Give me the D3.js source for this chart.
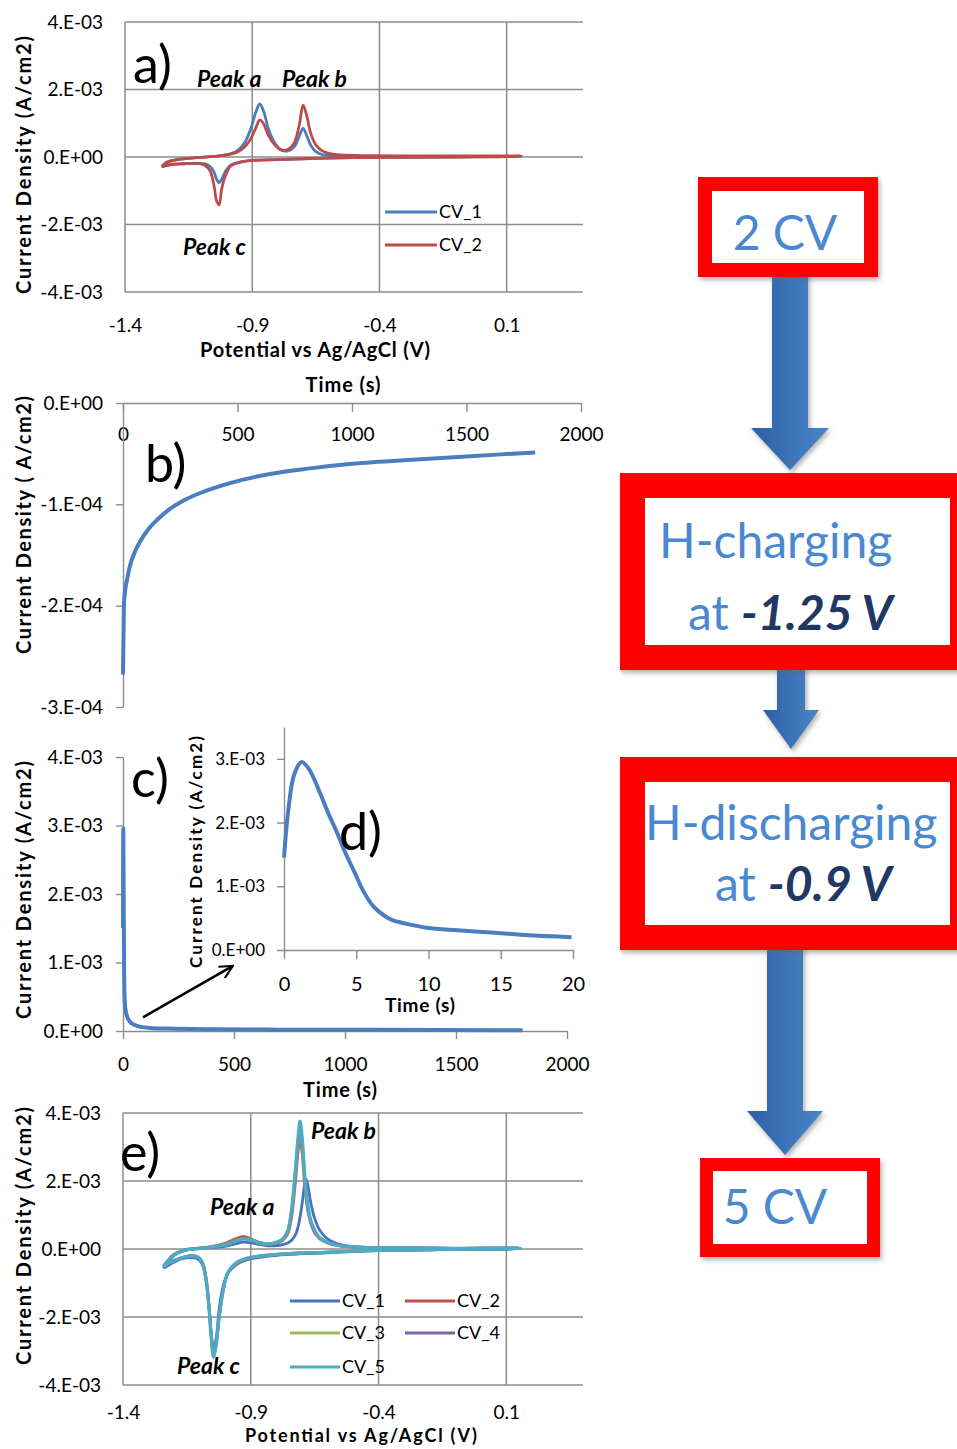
<!DOCTYPE html>
<html>
<head>
<meta charset="utf-8">
<script src="https://cdn.jsdelivr.net/npm/d3@7"></script>
<style>
  body { margin: 0; background: #fff; }
  text { font-family: Lato, "Open Sans", sans-serif; }
</style>
</head>
<body>
<svg id="fig" width="957" height="1449"></svg>
<script>
// ---------- data ----------
// CV axes (current in mA/cm2, labelled in A/cm2 like the Excel original)
const cvXTicks = [-1.4, -0.9, -0.4, 0.1];
const cvXLabels = ["-1.4", "-0.9", "-0.4", "0.1"];
const cvYTicks = [-4, -2, 0, 2, 4];
const cvYLabels = ["-4.E-03", "-2.E-03", "0.E+00", "2.E-03", "4.E-03"];

// panel a : potential along the loop (anodic sweep, then cathodic sweep back)
const potA = [-1.256, -1.235, -1.20, -1.15, -1.10, -1.05, -1.00, -0.96, -0.93, -0.905,
  -0.885, -0.87, -0.855, -0.835, -0.81, -0.785, -0.76, -0.735, -0.715, -0.70,
  -0.685, -0.67, -0.65, -0.625, -0.59, -0.55, -0.45, -0.3, -0.1, 0.158,
  0.10, -0.1, -0.3, -0.5, -0.65, -0.8, -0.9, -0.95, -0.985, -1.005,
  -1.02, -1.03, -1.04, -1.05, -1.065, -1.085, -1.12, -1.17, -1.21, -1.256];
const cvA1 = [-0.28, -0.15, -0.08, -0.04, -0.01, 0.02, 0.07, 0.18, 0.42, 0.85,
  1.35, 1.57, 1.35, 0.80, 0.40, 0.20, 0.18, 0.30, 0.62, 0.85,
  0.62, 0.35, 0.16, 0.07, 0.04, 0.03, 0.02, 0.02, 0.02, 0.02,
  0.01, 0, -0.01, -0.02, -0.04, -0.08, -0.10, -0.15, -0.24, -0.42,
  -0.66, -0.76, -0.66, -0.45, -0.28, -0.20, -0.19, -0.20, -0.21, -0.28];
const cvA2 = [-0.29, -0.16, -0.09, -0.04, -0.01, 0.02, 0.06, 0.14, 0.30, 0.55,
  0.88, 1.10, 0.98, 0.62, 0.35, 0.21, 0.22, 0.42, 0.95, 1.54,
  1.20, 0.70, 0.36, 0.18, 0.09, 0.06, 0.04, 0.03, 0.03, 0.03,
  0.01, 0, -0.01, -0.02, -0.04, -0.08, -0.10, -0.16, -0.27, -0.55,
  -0.95, -1.42, -1.30, -0.85, -0.42, -0.25, -0.19, -0.20, -0.22, -0.29];

// panel e : five CVs after charging / discharging
const potE = [-1.242, -1.225, -1.205, -1.18, -1.15, -1.10, -1.05, -1.00, -0.96, -0.93,
  -0.90, -0.87, -0.84, -0.80, -0.775, -0.755, -0.74, -0.725, -0.715, -0.707,
  -0.698, -0.69, -0.683, -0.675, -0.665, -0.65, -0.63, -0.60, -0.56, -0.50,
  -0.42, -0.3, -0.1, 0.154,
  0.10, -0.1, -0.3, -0.45, -0.6, -0.75, -0.85, -0.92, -0.96, -0.99,
  -1.01, -1.025, -1.035, -1.046, -1.055, -1.064, -1.075, -1.09, -1.11, -1.14,
  -1.175, -1.21, -1.242];
const cvE1 = [-0.57, -0.40, -0.22, -0.10, -0.03, 0.01, 0.04, 0.08, 0.15, 0.20,
  0.18, 0.14, 0.10, 0.10, 0.13, 0.18, 0.26, 0.42, 0.65, 0.95,
  1.40, 1.85, 2.05, 1.80, 1.35, 0.90, 0.55, 0.30, 0.15, 0.07,
  0.04, 0.03, 0.02, 0.02,
  0, -0.01, -0.03, -0.06, -0.11, -0.16, -0.23, -0.33, -0.48, -0.72,
  -1.15, -1.85, -2.60, -2.95, -2.45, -1.65, -0.95, -0.45, -0.28, -0.25,
  -0.30, -0.43, -0.57];
const cvE2 = [-0.50, -0.34, -0.18, -0.08, -0.01, 0.03, 0.08, 0.17, 0.30, 0.37,
  0.30, 0.20, 0.14, 0.17, 0.25, 0.45, 0.95, 2.00, 2.85, 3.25,
  2.75, 1.95, 1.45, 1.05, 0.75, 0.48, 0.30, 0.18, 0.10, 0.06,
  0.04, 0.03, 0.02, 0.02,
  0, -0.01, -0.03, -0.05, -0.09, -0.13, -0.19, -0.30, -0.45, -0.72,
  -1.30, -2.05, -2.70, -3.02, -2.45, -1.60, -0.85, -0.38, -0.22, -0.20,
  -0.26, -0.36, -0.50];
const cvE3 = [-0.51, -0.35, -0.19, -0.08, -0.02, 0.02, 0.07, 0.14, 0.25, 0.31,
  0.27, 0.19, 0.14, 0.18, 0.27, 0.50, 1.10, 2.20, 3.05, 3.45,
  2.95, 2.10, 1.55, 1.12, 0.80, 0.52, 0.32, 0.19, 0.11, 0.06,
  0.04, 0.03, 0.02, 0.02,
  0, -0.01, -0.03, -0.05, -0.09, -0.13, -0.19, -0.29, -0.43, -0.71,
  -1.30, -2.08, -2.75, -3.10, -2.52, -1.65, -0.88, -0.39, -0.23, -0.21,
  -0.27, -0.37, -0.51];
const cvE4 = [-0.52, -0.36, -0.20, -0.09, -0.02, 0.02, 0.06, 0.13, 0.23, 0.30,
  0.27, 0.20, 0.15, 0.19, 0.29, 0.53, 1.15, 2.30, 3.18, 3.60,
  3.08, 2.20, 1.60, 1.16, 0.82, 0.53, 0.33, 0.20, 0.11, 0.06,
  0.04, 0.03, 0.02, 0.02,
  0, -0.01, -0.03, -0.05, -0.10, -0.14, -0.20, -0.28, -0.42, -0.70,
  -1.30, -2.10, -2.78, -3.14, -2.56, -1.68, -0.89, -0.40, -0.23, -0.21,
  -0.28, -0.38, -0.52];
const cvE5 = [-0.52, -0.36, -0.20, -0.09, -0.02, 0.02, 0.06, 0.12, 0.22, 0.30,
  0.27, 0.20, 0.15, 0.20, 0.30, 0.55, 1.20, 2.40, 3.30, 3.76,
  3.20, 2.30, 1.65, 1.20, 0.85, 0.55, 0.33, 0.20, 0.11, 0.06,
  0.04, 0.03, 0.02, 0.02,
  0, -0.01, -0.03, -0.05, -0.10, -0.14, -0.20, -0.28, -0.42, -0.70,
  -1.30, -2.10, -2.80, -3.18, -2.60, -1.70, -0.90, -0.40, -0.23, -0.21,
  -0.28, -0.38, -0.52];

// panel b : H-charging at -1.25 V (current in uA/cm2)
const timeB = [0, 4, 9, 17, 30, 48, 74, 109, 153, 205, 271, 358, 467, 642, 817, 1000, 1300, 1500, 1650, 1800];
const curB = [-268, -199, -186, -175, -161, -149, -137, -125, -114.5, -104.5, -95.5, -87, -79, -70, -64.5, -60, -55.5, -52.7, -50.7, -48.8];
const bXTicks = [0, 500, 1000, 1500, 2000];
const bYTicks = [0, -100, -200, -300];
const bYLabels = ["0.E+00", "-1.E-04", "-2.E-04", "-3.E-04"];

// panel c : H-discharging at -0.9 V (current in mA/cm2)
const timeC = [0, 1.2, 3, 5, 8, 12, 20, 30, 50, 80, 120, 200, 400, 700, 1000, 1400, 1800];
const curC = [1.5, 2.95, 2.0, 0.95, 0.42, 0.3, 0.2, 0.14, 0.09, 0.06, 0.045, 0.035, 0.025, 0.02, 0.018, 0.015, 0.012];
const cXTicks = [0, 500, 1000, 1500, 2000];
const cYTicks = [0, 1, 2, 3, 4];
const cYLabels = ["0.E+00", "1.E-03", "2.E-03", "3.E-03", "4.E-03"];

// panel d : first 20 s of the discharge
const timeD = [0, 0.3, 0.7, 1.2, 1.7, 2.5, 3.0, 3.6, 4.2, 4.9, 5.5, 6.2, 7.0, 7.5, 8.5, 9.9, 12, 14.6, 17, 19.9];
const curD = [1.45, 2.2, 2.75, 2.95, 2.85, 2.46, 2.18, 1.88, 1.55, 1.21, 0.92, 0.68, 0.53, 0.47, 0.41, 0.35, 0.31, 0.27, 0.23, 0.2];
const dXTicks = [0, 5, 10, 15, 20];
const dYTicks = [0, 1, 2, 3];
const dYLabels = ["0.E+00", "1.E-03", "2.E-03", "3.E-03"];

const gridColor = "#8c8c8c";
const lineBlue = "#4A7EBF";

// ---------- setup ----------
const svg = d3.select("#fig");
svg.append("rect").attr("width", 957).attr("height", 1449).attr("fill", "#fff");

const defs = svg.append("defs");
const shadow = defs.append("filter").attr("id", "shadow")
  .attr("x", "-10%").attr("y", "-10%").attr("width", "130%").attr("height", "130%");
shadow.append("feDropShadow").attr("dx", 2).attr("dy", 3).attr("stdDeviation", 2.5)
  .attr("flood-color", "#666").attr("flood-opacity", 0.5);
const grad = defs.append("linearGradient").attr("id", "arrowFill")
  .attr("x1", 0).attr("x2", 1).attr("y1", 0).attr("y2", 0);
grad.append("stop").attr("offset", 0).attr("stop-color", "#2D5FA6");
grad.append("stop").attr("offset", 1).attr("stop-color", "#4A86C9");
defs.append("marker").attr("id", "openHead").attr("viewBox", "0 0 12 12")
  .attr("refX", 11).attr("refY", 6).attr("markerWidth", 6).attr("markerHeight", 6)
  .attr("orient", "auto").attr("markerUnits", "strokeWidth")
  .append("path").attr("d", "M1,1 L11,6 L1,11").attr("fill", "none").attr("stroke", "#000").attr("stroke-width", 1.6);

function txt(x, y, s, size, opt) {
  opt = opt || {};
  const t = svg.append("text").attr("x", x).attr("y", y).attr("font-size", size)
    .attr("font-weight", opt.weight || "normal").attr("font-style", opt.style || "normal")
    .attr("text-anchor", opt.anchor || "start").attr("fill", opt.fill || "#000").text(s);
  if (opt.len) t.attr("textLength", opt.len).attr("lengthAdjust", "spacing");
  return t;
}
function vtitle(x, cy, s, size, len) {
  svg.append("text").attr("transform", "translate(" + x + "," + cy + ") rotate(-90)")
    .attr("text-anchor", "middle").attr("font-size", size).attr("font-weight", "bold")
    .attr("textLength", len).attr("lengthAdjust", "spacing").text(s);
}
function styleAxis(a, size) {
  a.attr("font-size", size).attr("font-family", "Lato, 'Open Sans', sans-serif");
  a.selectAll("text").attr("fill", "#000");
  a.selectAll("path, line").attr("stroke", gridColor).attr("stroke-width", 1.4);
}
const peak = { weight: "bold", style: "italic" };

// ---------- cyclic voltammetry panels ----------
function cvPanel(p) {
  const x = d3.scaleLinear().domain([-1.4, 0.4]).range([p.left, p.right]);
  const y = d3.scaleLinear().domain([-4, 4]).range([p.bottom, p.top]);
  const g = svg.append("g");

  g.selectAll("line.h").data(cvYTicks).enter().append("line")
    .attr("x1", p.left).attr("x2", p.right)
    .attr("y1", d => y(d)).attr("y2", d => y(d))
    .attr("stroke", gridColor).attr("stroke-width", 1.5);
  g.selectAll("line.v").data(cvXTicks).enter().append("line")
    .attr("x1", d => x(d)).attr("x2", d => x(d))
    .attr("y1", p.top).attr("y2", p.bottom)
    .attr("stroke", gridColor).attr("stroke-width", 1.5);

  g.append("g").attr("transform", "translate(" + p.left + ",0)")
    .call(d3.axisLeft(y).tickValues(cvYTicks).tickFormat((d, i) => cvYLabels[i]).tickSize(0).tickPadding(22))
    .call(a => a.select(".domain").remove())
    .call(a => styleAxis(a, 19));
  g.append("g").attr("transform", "translate(0," + p.bottom + ")")
    .call(d3.axisBottom(x).tickValues(cvXTicks).tickFormat((d, i) => cvXLabels[i]).tickSize(0).tickPadding(p.xPad))
    .call(a => a.select(".domain").remove())
    .call(a => styleAxis(a, 19));

  const line = d3.line().x(d => x(d[0])).y(d => y(d[1])).curve(d3.curveCatmullRom.alpha(0.5));
  p.series.forEach(s => {
    g.append("path").datum(p.pot.map((v, i) => [v, s.cur[i]]))
      .attr("d", line).attr("fill", "none").attr("stroke", s.color)
      .attr("stroke-width", s.width || 2.8).attr("stroke-linejoin", "round");
  });
  return { x, y };
}

// panel a
cvPanel({ left: 125, right: 583, top: 22, bottom: 292, xPad: 27, pot: potA,
  series: [{ cur: cvA1, color: "#4A7EBB" }, { cur: cvA2, color: "#BE4B48" }] });
vtitle(31, 165, "Current Density  (A/cm2)", 20, 258);
txt(315, 357, "Potential vs Ag/AgCl (V)", 20, { weight: "bold", anchor: "middle", len: 230 });
txt(133, 83, "a)", 52);
txt(197, 87, "Peak a", 23, peak);
txt(282, 87, "Peak b", 23, peak);
txt(183, 255, "Peak c", 23, peak);
[["CV_1", "#4A7EBB", 212], ["CV_2", "#BE4B48", 245]].forEach(l => {
  svg.append("line").attr("x1", 385).attr("x2", 437).attr("y1", l[2]).attr("y2", l[2])
    .attr("stroke", l[1]).attr("stroke-width", 2.8);
  txt(439, l[2] + 6, l[0], 18);
});

// panel e
cvPanel({ left: 123, right: 583, top: 1113, bottom: 1385, xPad: 21, pot: potE,
  series: [
    { cur: cvE1, color: "#4672C4" }, { cur: cvE2, color: "#C0504D" },
    { cur: cvE3, color: "#9BBB59" }, { cur: cvE4, color: "#8064A2" },
    { cur: cvE5, color: "#4BACC6", width: 3.2 }] });
vtitle(31, 1236, "Current Density  (A/cm2)", 20, 258);
txt(361, 1442, "Potential vs Ag/AgCl (V)", 18, { weight: "bold", anchor: "middle", len: 232 });
txt(120, 1171, "e)", 52);
txt(311, 1139, "Peak b", 23, peak);
txt(210, 1215, "Peak a", 23, peak);
txt(177, 1374, "Peak c", 23, peak);
[["CV_1", "#4672C4", 290, 1301], ["CV_2", "#C0504D", 405, 1301],
 ["CV_3", "#9BBB59", 290, 1333], ["CV_4", "#8064A2", 405, 1333],
 ["CV_5", "#4BACC6", 290, 1367]].forEach(l => {
  svg.append("line").attr("x1", l[2]).attr("x2", l[2] + 50).attr("y1", l[3]).attr("y2", l[3])
    .attr("stroke", l[1]).attr("stroke-width", 3);
  txt(l[2] + 52, l[3] + 6, l[0], 18);
});

// ---------- panel b : charging transient ----------
const xb = d3.scaleLinear().domain([0, 2000]).range([123, 581]);
const yb = d3.scaleLinear().domain([-300, 0]).range([707, 403]);
svg.append("g").attr("transform", "translate(0," + yb(0) + ")")
  .call(d3.axisBottom(xb).tickValues(bXTicks).tickFormat(d => String(d)).tickSize(9).tickSizeOuter(0).tickPadding(16))
  .call(a => styleAxis(a, 19));
svg.append("g").attr("transform", "translate(" + xb(0) + ",0)")
  .call(d3.axisLeft(yb).tickValues(bYTicks).tickFormat((d, i) => bYLabels[i]).tickSize(7).tickSizeOuter(0).tickPadding(13))
  .call(a => styleAxis(a, 19));
svg.append("path").datum(timeB.map((t, i) => [t, curB[i]]))
  .attr("d", d3.line().x(d => xb(d[0])).y(d => yb(d[1])).curve(d3.curveMonotoneX))
  .attr("fill", "none").attr("stroke", lineBlue).attr("stroke-width", 4);
vtitle(31, 525, "Current Density ( A/cm2)", 20, 258);
txt(343, 392, "Time (s)", 20, { weight: "bold", anchor: "middle", len: 75 });
txt(145, 482, "b)", 52);

// ---------- panel c : discharging transient ----------
const xc = d3.scaleLinear().domain([0, 2000]).range([123, 567]);
const yc = d3.scaleLinear().domain([0, 4]).range([1031, 757]);
svg.append("g").attr("transform", "translate(0," + yc(0) + ")")
  .call(d3.axisBottom(xc).tickValues(cXTicks).tickFormat(d => String(d)).tickSize(8).tickSizeOuter(0).tickPadding(19))
  .call(a => styleAxis(a, 19));
svg.append("g").attr("transform", "translate(" + xc(0) + ",0)")
  .call(d3.axisLeft(yc).tickValues(cYTicks).tickFormat((d, i) => cYLabels[i]).tickSize(7).tickSizeOuter(0).tickPadding(13))
  .call(a => styleAxis(a, 19));
svg.append("path").datum(timeC.map((t, i) => [t, curC[i]]))
  .attr("d", d3.line().x(d => xc(d[0])).y(d => yc(d[1])).curve(d3.curveMonotoneX))
  .attr("fill", "none").attr("stroke", lineBlue).attr("stroke-width", 4);
vtitle(31, 890, "Current Density  (A/cm2)", 20, 258);
txt(340, 1097, "Time (s)", 20, { weight: "bold", anchor: "middle", len: 74 });
txt(131, 797, "c)", 52);
// zoom-in arrow towards the inset
svg.append("line").attr("x1", xc(90)).attr("y1", yc(0.2)).attr("x2", xc(495)).attr("y2", yc(0.95))
  .attr("stroke", "#000").attr("stroke-width", 2.6).attr("marker-end", "url(#openHead)");

// ---------- panel d : inset, first 20 s ----------
const xd = d3.scaleLinear().domain([0, 20]).range([284, 573]);
const yd = d3.scaleLinear().domain([0, 3.5]).range([950, 727]);
svg.append("g").attr("transform", "translate(0," + yd(0) + ")")
  .call(d3.axisBottom(xd).tickValues(dXTicks).tickFormat(d => String(d)).tickSize(9).tickSizeOuter(0).tickPadding(18))
  .call(a => styleAxis(a, 20));
svg.append("g").attr("transform", "translate(" + xd(0) + ",0)")
  .call(d3.axisLeft(yd).tickValues(dYTicks).tickFormat((d, i) => dYLabels[i]).tickSize(7).tickSizeOuter(0).tickPadding(12))
  .call(a => styleAxis(a, 17));
svg.append("path").datum(timeD.map((t, i) => [t, curD[i]]))
  .attr("d", d3.line().x(d => xd(d[0])).y(d => yd(d[1])).curve(d3.curveCatmullRom.alpha(0.5)))
  .attr("fill", "none").attr("stroke", lineBlue).attr("stroke-width", 4);
vtitle(202, 852, "Current Density  (A/cm2)", 17, 232);
txt(420, 1012, "Time (s)", 19, { weight: "bold", anchor: "middle", len: 70 });
txt(339, 850, "d)", 52);

// ---------- flow chart ----------
const flow = svg.append("g");
function blockArrow(cx, top, shaftW, headY, headW, tip) {
  const pts = [[cx - shaftW / 2, top], [cx + shaftW / 2, top], [cx + shaftW / 2, headY],
    [cx + headW / 2, headY], [cx, tip], [cx - headW / 2, headY], [cx - shaftW / 2, headY]];
  flow.append("polygon").attr("points", pts.map(p => p.join(",")).join(" "))
    .attr("fill", "url(#arrowFill)").attr("filter", "url(#shadow)");
}
blockArrow(790, 272, 36, 428, 78, 470);
blockArrow(791, 665, 28, 710, 56, 749);
blockArrow(785, 945, 36, 1111, 76, 1155);

function box(x, y, w, h, sw) {
  flow.append("rect").attr("x", x).attr("y", y).attr("width", w).attr("height", h)
    .attr("fill", "#fff").attr("stroke", "#FF0000").attr("stroke-width", sw)
    .attr("filter", "url(#shadow)");
}
box(705, 184, 166, 86, 14);
box(632.5, 485.5, 330, 172, 25);
box(632.5, 769.5, 330, 168, 25);
box(706.5, 1164.5, 167, 86, 13);

const boxBlue = "#4A88CF", navy = "#1F3864";
txt(785, 250, "2 CV", 48, { fill: boxBlue, anchor: "middle" });
txt(659, 558, "H-charging", 48, { fill: boxBlue });
const t2 = txt(688, 630, "at ", 48, { fill: boxBlue });
t2.append("tspan").attr("font-weight", "bold").attr("font-style", "italic").attr("fill", navy).text("-1.25 V");
txt(645, 840, "H-discharging", 48, { fill: boxBlue });
const t3 = txt(715, 901, "at ", 48, { fill: boxBlue });
t3.append("tspan").attr("font-weight", "bold").attr("font-style", "italic").attr("fill", navy).text("-0.9 V");
txt(775, 1224, "5 CV", 48, { fill: boxBlue, anchor: "middle" });
</script>
</body>
</html>
